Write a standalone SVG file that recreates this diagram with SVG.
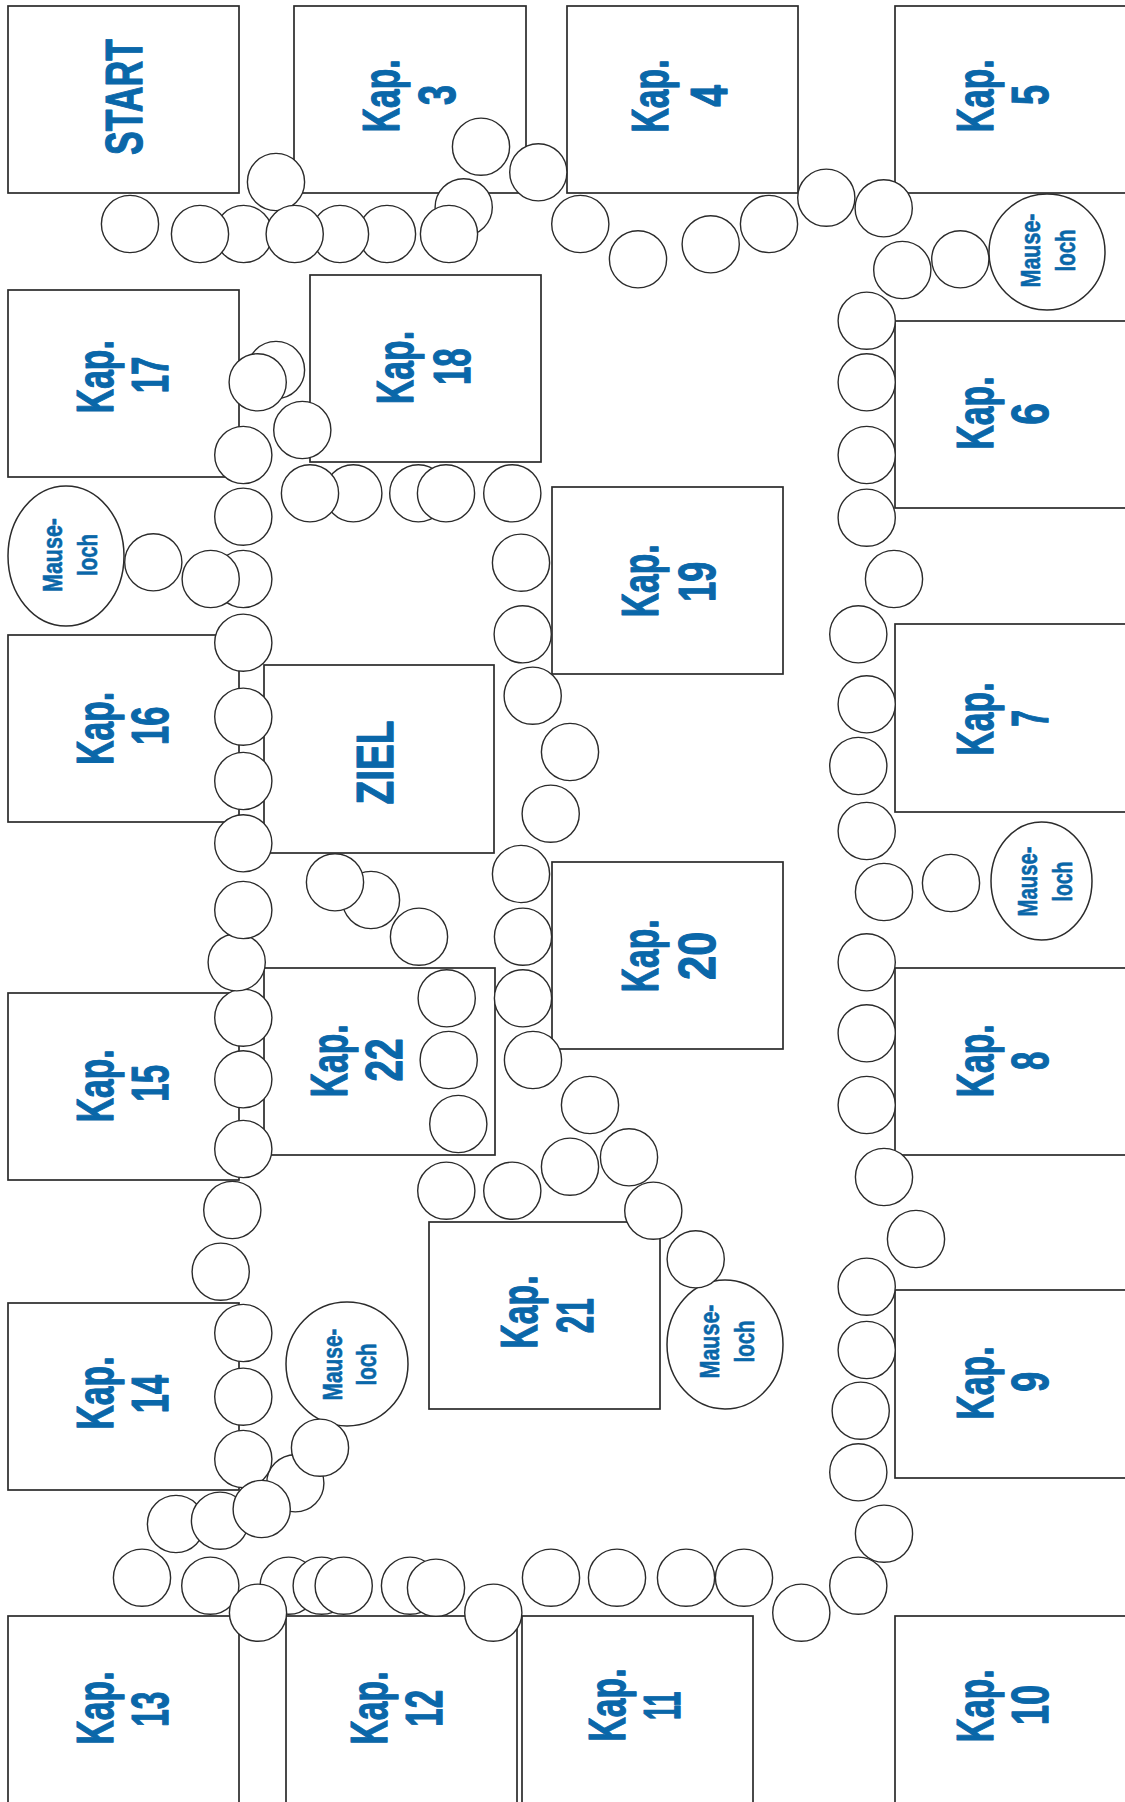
<svg xmlns="http://www.w3.org/2000/svg" width="1125" height="1802" viewBox="0 0 1125 1802">
<style>
.box{fill:#fff;stroke:#2b2b2b;stroke-width:1.7}
.f{fill:#fff;stroke:#2b2b2b;stroke-width:1.4}
.ml{fill:#fff;stroke:#2b2b2b;stroke-width:1.5}
.t{font-family:"Liberation Sans",Arial,sans-serif;font-weight:bold;font-size:52px;fill:#0a67a9;stroke:#0a67a9;stroke-width:1.2;stroke-linejoin:round;text-anchor:middle}
.s{font-size:28px;stroke-width:0.6}
</style>
<rect width="1125" height="1802" fill="#fff"/>
<g id="start"><rect class="box" x="8" y="6" width="231" height="187"/><text class="t" transform="translate(141.7,97) rotate(-90)" textLength="116" lengthAdjust="spacingAndGlyphs">START</text></g>
<g id="kap3"><rect class="box" x="294" y="6" width="232" height="187"/><text class="t" transform="translate(399,95.8) rotate(-90)" textLength="73" lengthAdjust="spacingAndGlyphs">Kap.</text><text class="t" transform="translate(455,95) rotate(-90)" textLength="20" lengthAdjust="spacingAndGlyphs">3</text></g>
<g id="kap4"><rect class="box" x="567" y="6" width="231" height="187"/><text class="t" transform="translate(668,96) rotate(-90)" textLength="73" lengthAdjust="spacingAndGlyphs">Kap.</text><text class="t" transform="translate(726.7,95.8) rotate(-90)" textLength="21.7" lengthAdjust="spacingAndGlyphs">4</text></g>
<g id="kap5"><rect class="box" x="895" y="6" width="240" height="187"/><text class="t" transform="translate(992.7,95.8) rotate(-90)" textLength="73" lengthAdjust="spacingAndGlyphs">Kap.</text><text class="t" transform="translate(1048.3,95) rotate(-90)" textLength="20" lengthAdjust="spacingAndGlyphs">5</text></g>
<g id="kap6"><rect class="box" x="895" y="321" width="240" height="187"/><text class="t" transform="translate(992.7,413) rotate(-90)" textLength="73" lengthAdjust="spacingAndGlyphs">Kap.</text><text class="t" transform="translate(1048.3,414) rotate(-90)" textLength="21.7" lengthAdjust="spacingAndGlyphs">6</text></g>
<g id="kap7"><rect class="box" x="895" y="624" width="240" height="188"/><text class="t" transform="translate(992.7,719) rotate(-90)" textLength="73" lengthAdjust="spacingAndGlyphs">Kap.</text><text class="t" transform="translate(1048.3,718.3) rotate(-90)" textLength="16.7" lengthAdjust="spacingAndGlyphs">7</text></g>
<g id="kap8"><rect class="box" x="895" y="968" width="240" height="187"/><text class="t" transform="translate(992.7,1060.8) rotate(-90)" textLength="73" lengthAdjust="spacingAndGlyphs">Kap.</text><text class="t" transform="translate(1048.3,1060.8) rotate(-90)" textLength="18.3" lengthAdjust="spacingAndGlyphs">8</text></g>
<g id="kap9"><rect class="box" x="895" y="1290" width="240" height="188"/><text class="t" transform="translate(992.7,1383) rotate(-90)" textLength="73" lengthAdjust="spacingAndGlyphs">Kap.</text><text class="t" transform="translate(1048.3,1381.7) rotate(-90)" textLength="20" lengthAdjust="spacingAndGlyphs">9</text></g>
<g id="kap10"><rect class="box" x="895" y="1616" width="240" height="200"/><text class="t" transform="translate(992.7,1705.8) rotate(-90)" textLength="73" lengthAdjust="spacingAndGlyphs">Kap.</text><text class="t" transform="translate(1048.3,1705) rotate(-90)" textLength="40" lengthAdjust="spacingAndGlyphs">10</text></g>
<g id="kap11"><rect class="box" x="522" y="1616" width="231" height="200"/><text class="t" transform="translate(625,1705) rotate(-90)" textLength="73" lengthAdjust="spacingAndGlyphs">Kap.</text><text class="t" transform="translate(680,1705.8) rotate(-90)" textLength="28.3" lengthAdjust="spacingAndGlyphs">11</text></g>
<g id="kap12"><rect class="box" x="286" y="1616" width="231" height="200"/><text class="t" transform="translate(386.7,1708) rotate(-90)" textLength="73" lengthAdjust="spacingAndGlyphs">Kap.</text><text class="t" transform="translate(441.7,1708.3) rotate(-90)" textLength="36.7" lengthAdjust="spacingAndGlyphs">12</text></g>
<g id="kap13"><rect class="box" x="8" y="1616" width="231" height="200"/><text class="t" transform="translate(113.3,1708) rotate(-90)" textLength="73" lengthAdjust="spacingAndGlyphs">Kap.</text><text class="t" transform="translate(168.3,1709.2) rotate(-90)" textLength="35" lengthAdjust="spacingAndGlyphs">13</text></g>
<g id="kap14"><rect class="box" x="8" y="1303" width="231" height="187"/><text class="t" transform="translate(113.3,1393) rotate(-90)" textLength="73" lengthAdjust="spacingAndGlyphs">Kap.</text><text class="t" transform="translate(168.3,1394) rotate(-90)" textLength="38.3" lengthAdjust="spacingAndGlyphs">14</text></g>
<g id="kap15"><rect class="box" x="8" y="993" width="231" height="187"/><text class="t" transform="translate(113.3,1085.8) rotate(-90)" textLength="73" lengthAdjust="spacingAndGlyphs">Kap.</text><text class="t" transform="translate(168.3,1083.3) rotate(-90)" textLength="36.7" lengthAdjust="spacingAndGlyphs">15</text></g>
<g id="kap16"><rect class="box" x="8" y="635" width="231" height="187"/><text class="t" transform="translate(113.3,728.3) rotate(-90)" textLength="73" lengthAdjust="spacingAndGlyphs">Kap.</text><text class="t" transform="translate(168.3,725.8) rotate(-90)" textLength="38.3" lengthAdjust="spacingAndGlyphs">16</text></g>
<g id="kap17"><rect class="box" x="8" y="290" width="231" height="187"/><text class="t" transform="translate(113.3,376.7) rotate(-90)" textLength="73" lengthAdjust="spacingAndGlyphs">Kap.</text><text class="t" transform="translate(168.3,375) rotate(-90)" textLength="36.7" lengthAdjust="spacingAndGlyphs">17</text></g>
<g id="kap18"><rect class="box" x="310" y="275" width="231" height="187"/><text class="t" transform="translate(413.3,367.5) rotate(-90)" textLength="73" lengthAdjust="spacingAndGlyphs">Kap.</text><text class="t" transform="translate(470,366.7) rotate(-90)" textLength="36.7" lengthAdjust="spacingAndGlyphs">18</text></g>
<g id="kap19"><rect class="box" x="552" y="487" width="231" height="187"/><text class="t" transform="translate(658.3,580.8) rotate(-90)" textLength="73" lengthAdjust="spacingAndGlyphs">Kap.</text><text class="t" transform="translate(715,581.7) rotate(-90)" textLength="40" lengthAdjust="spacingAndGlyphs">19</text></g>
<g id="kap20"><rect class="box" x="552" y="862" width="231" height="187"/><text class="t" transform="translate(658.3,955.8) rotate(-90)" textLength="73" lengthAdjust="spacingAndGlyphs">Kap.</text><text class="t" transform="translate(715,955.8) rotate(-90)" textLength="48.3" lengthAdjust="spacingAndGlyphs">20</text></g>
<g id="kap21"><rect class="box" x="429" y="1222" width="231" height="187"/><text class="t" transform="translate(536.7,1312) rotate(-90)" textLength="73" lengthAdjust="spacingAndGlyphs">Kap.</text><text class="t" transform="translate(593.3,1315.8) rotate(-90)" textLength="35" lengthAdjust="spacingAndGlyphs">21</text></g>
<g id="kap22"><rect class="box" x="264" y="968" width="231" height="187"/><text class="t" transform="translate(346.7,1060.8) rotate(-90)" textLength="73" lengthAdjust="spacingAndGlyphs">Kap.</text><text class="t" transform="translate(402,1060) rotate(-90)" textLength="43" lengthAdjust="spacingAndGlyphs">22</text></g>
<g id="ziel"><rect class="box" x="264" y="665" width="230" height="188"/><text class="t" transform="translate(393,762.5) rotate(-90)" textLength="84" lengthAdjust="spacingAndGlyphs">ZIEL</text></g>
<g id="mauseloch1"><ellipse class="ml" cx="1047" cy="252" rx="58" ry="58"/><text class="t s" transform="translate(1040,250.5) rotate(-90)" textLength="74" lengthAdjust="spacingAndGlyphs">Mause-</text><text class="t s" transform="translate(1075,250.5) rotate(-90)" textLength="42" lengthAdjust="spacingAndGlyphs">loch</text></g>
<g id="mauseloch2"><ellipse class="ml" cx="66" cy="556" rx="58" ry="70"/><text class="t s" transform="translate(61.7,555) rotate(-90)" textLength="74" lengthAdjust="spacingAndGlyphs">Mause-</text><text class="t s" transform="translate(96.7,555) rotate(-90)" textLength="42" lengthAdjust="spacingAndGlyphs">loch</text></g>
<g id="mauseloch3"><ellipse class="ml" cx="1041.5" cy="881" rx="50.5" ry="59"/><text class="t s" transform="translate(1036.7,881.5) rotate(-90)" textLength="70" lengthAdjust="spacingAndGlyphs">Mause-</text><text class="t s" transform="translate(1071.7,881.5) rotate(-90)" textLength="40" lengthAdjust="spacingAndGlyphs">loch</text></g>
<g id="mauseloch4"><ellipse class="ml" cx="347" cy="1364" rx="61" ry="62"/><text class="t s" transform="translate(342,1364.5) rotate(-90)" textLength="72" lengthAdjust="spacingAndGlyphs">Mause-</text><text class="t s" transform="translate(376,1364.5) rotate(-90)" textLength="42" lengthAdjust="spacingAndGlyphs">loch</text></g>
<g id="mauseloch5"><ellipse class="ml" cx="725" cy="1344.5" rx="58" ry="64.5"/><text class="t s" transform="translate(719,1341.5) rotate(-90)" textLength="74" lengthAdjust="spacingAndGlyphs">Mause-</text><text class="t s" transform="translate(754,1341.5) rotate(-90)" textLength="42" lengthAdjust="spacingAndGlyphs">loch</text></g>
<g id="fields">
<circle class="f" cx="276" cy="182" r="28.6"/>
<circle class="f" cx="243.7" cy="234" r="28.6"/>
<circle class="f" cx="130" cy="224" r="28.6"/>
<circle class="f" cx="200" cy="234" r="28.6"/>
<circle class="f" cx="387" cy="234" r="28.6"/>
<circle class="f" cx="340" cy="234" r="28.6"/>
<circle class="f" cx="294.7" cy="234" r="28.6"/>
<circle class="f" cx="463.7" cy="207.3" r="28.6"/>
<circle class="f" cx="449" cy="234" r="28.6"/>
<circle class="f" cx="481" cy="146.7" r="28.6"/>
<circle class="f" cx="538.3" cy="172.3" r="28.6"/>
<circle class="f" cx="580.3" cy="224" r="28.6"/>
<circle class="f" cx="638" cy="259.3" r="28.6"/>
<circle class="f" cx="710.7" cy="244.3" r="28.6"/>
<circle class="f" cx="769" cy="224" r="28.6"/>
<circle class="f" cx="826.3" cy="197.7" r="28.6"/>
<circle class="f" cx="902.3" cy="270" r="28.6"/>
<circle class="f" cx="883.7" cy="208.3" r="28.6"/>
<circle class="f" cx="960.3" cy="259.3" r="28.6"/>
<circle class="f" cx="866.7" cy="320.7" r="28.6"/>
<circle class="f" cx="866.7" cy="382.3" r="28.6"/>
<circle class="f" cx="866.7" cy="455" r="28.6"/>
<circle class="f" cx="866.7" cy="517.7" r="28.6"/>
<circle class="f" cx="894" cy="579" r="28.6"/>
<circle class="f" cx="858.3" cy="634.3" r="28.6"/>
<circle class="f" cx="866.7" cy="704.3" r="28.6"/>
<circle class="f" cx="858.3" cy="766" r="28.6"/>
<circle class="f" cx="866.7" cy="831" r="28.6"/>
<circle class="f" cx="884" cy="892" r="28.6"/>
<circle class="f" cx="951" cy="883" r="28.6"/>
<circle class="f" cx="866.7" cy="962.3" r="28.6"/>
<circle class="f" cx="866.7" cy="1033.3" r="28.6"/>
<circle class="f" cx="866.7" cy="1105" r="28.6"/>
<circle class="f" cx="884" cy="1177" r="28.6"/>
<circle class="f" cx="916" cy="1239" r="28.6"/>
<circle class="f" cx="866.7" cy="1286.7" r="28.6"/>
<circle class="f" cx="866.7" cy="1350" r="28.6"/>
<circle class="f" cx="860.7" cy="1410.7" r="28.6"/>
<circle class="f" cx="858.3" cy="1472.3" r="28.6"/>
<circle class="f" cx="884" cy="1533.7" r="28.6"/>
<circle class="f" cx="858.3" cy="1585.7" r="28.6"/>
<circle class="f" cx="801.3" cy="1612.7" r="28.6"/>
<circle class="f" cx="744" cy="1577.7" r="28.6"/>
<circle class="f" cx="686" cy="1577.7" r="28.6"/>
<circle class="f" cx="617" cy="1577.7" r="28.6"/>
<circle class="f" cx="551" cy="1577.7" r="28.6"/>
<circle class="f" cx="493.3" cy="1612.7" r="28.6"/>
<circle class="f" cx="410" cy="1585.7" r="28.6"/>
<circle class="f" cx="436" cy="1587.7" r="28.6"/>
<circle class="f" cx="288.7" cy="1585.7" r="28.6"/>
<circle class="f" cx="321.7" cy="1585.7" r="28.6"/>
<circle class="f" cx="343.7" cy="1585.7" r="28.6"/>
<circle class="f" cx="210.3" cy="1585.7" r="28.6"/>
<circle class="f" cx="258" cy="1612.7" r="28.6"/>
<circle class="f" cx="142" cy="1577.7" r="28.6"/>
<circle class="f" cx="176" cy="1524" r="28.6"/>
<circle class="f" cx="220" cy="1520.7" r="28.6"/>
<circle class="f" cx="295.3" cy="1483.3" r="28.6"/>
<circle class="f" cx="243.3" cy="1459" r="28.6"/>
<circle class="f" cx="320" cy="1447.7" r="28.6"/>
<circle class="f" cx="261.7" cy="1509" r="28.6"/>
<circle class="f" cx="243.3" cy="1396.7" r="28.6"/>
<circle class="f" cx="243.3" cy="1333" r="28.6"/>
<circle class="f" cx="220.7" cy="1271.7" r="28.6"/>
<circle class="f" cx="232.3" cy="1210" r="28.6"/>
<circle class="f" cx="243.3" cy="1149" r="28.6"/>
<circle class="f" cx="243.3" cy="1079.3" r="28.6"/>
<circle class="f" cx="243.3" cy="1017.7" r="28.6"/>
<circle class="f" cx="236.7" cy="962.3" r="28.6"/>
<circle class="f" cx="243.3" cy="910" r="28.6"/>
<circle class="f" cx="243.3" cy="843.3" r="28.6"/>
<circle class="f" cx="243.3" cy="781" r="28.6"/>
<circle class="f" cx="243.3" cy="716.7" r="28.6"/>
<circle class="f" cx="243.3" cy="642.7" r="28.6"/>
<circle class="f" cx="243.3" cy="579" r="28.6"/>
<circle class="f" cx="210.7" cy="579" r="28.6"/>
<circle class="f" cx="153.3" cy="562.3" r="28.6"/>
<circle class="f" cx="243.3" cy="516.7" r="28.6"/>
<circle class="f" cx="243.3" cy="455" r="28.6"/>
<circle class="f" cx="276" cy="370" r="28.6"/>
<circle class="f" cx="257.7" cy="382.3" r="28.6"/>
<circle class="f" cx="302.3" cy="430" r="28.6"/>
<circle class="f" cx="353.3" cy="493.3" r="28.6"/>
<circle class="f" cx="310" cy="493.3" r="28.6"/>
<circle class="f" cx="418.3" cy="493.3" r="28.6"/>
<circle class="f" cx="446" cy="493.3" r="28.6"/>
<circle class="f" cx="512.3" cy="493.3" r="28.6"/>
<circle class="f" cx="521" cy="562.7" r="28.6"/>
<circle class="f" cx="522.7" cy="634.3" r="28.6"/>
<circle class="f" cx="532.7" cy="695.7" r="28.6"/>
<circle class="f" cx="570" cy="752" r="28.6"/>
<circle class="f" cx="550.7" cy="813.7" r="28.6"/>
<circle class="f" cx="521" cy="874" r="28.6"/>
<circle class="f" cx="523" cy="936.7" r="28.6"/>
<circle class="f" cx="523" cy="998.3" r="28.6"/>
<circle class="f" cx="533" cy="1060" r="28.6"/>
<circle class="f" cx="590" cy="1105" r="28.6"/>
<circle class="f" cx="570" cy="1166.7" r="28.6"/>
<circle class="f" cx="512.3" cy="1190.7" r="28.6"/>
<circle class="f" cx="446.3" cy="1190.7" r="28.6"/>
<circle class="f" cx="629" cy="1157.3" r="28.6"/>
<circle class="f" cx="653.3" cy="1210.7" r="28.6"/>
<circle class="f" cx="695.7" cy="1259.3" r="28.6"/>
<circle class="f" cx="371" cy="900" r="28.6"/>
<circle class="f" cx="335" cy="882.3" r="28.6"/>
<circle class="f" cx="419" cy="936.7" r="28.6"/>
<circle class="f" cx="446.7" cy="998.3" r="28.6"/>
<circle class="f" cx="448.7" cy="1060" r="28.6"/>
<circle class="f" cx="458.3" cy="1124" r="28.6"/>
</g>
</svg>
